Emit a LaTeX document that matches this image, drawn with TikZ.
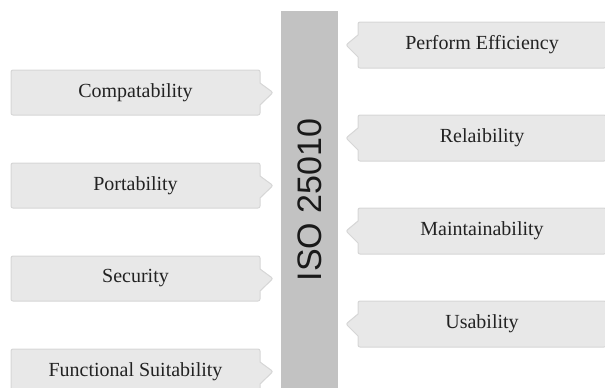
\documentclass[tikz,border=0pt]{standalone}
\usepackage{fontspec}
\setmainfont{Liberation Serif}
\newfontfamily\isofont{Liberation Sans}
\usepackage{xcolor}
\usepackage{tikz}
\usetikzlibrary{shapes.callouts, positioning}
\definecolor{tagfill}{HTML}{E8E8E8}
\definecolor{tagline}{HTML}{D6D6D6}
\definecolor{barfill}{HTML}{C2C2C2}
\definecolor{tagtext}{HTML}{222222}
\tikzset{
  tagbox/.style={rectangle callout, draw=tagline, fill=tagfill, line width=0.75pt, rounded corners=1.5pt, inner sep=0pt, align=center, text=tagtext, font=\fontsize{15}{18}\selectfont, callout pointer width=16.5pt},
  leftbox/.style={tagbox, minimum width=186.75pt, minimum height=33.75pt, callout relative pointer={(9.75pt,0pt)}},
  rightbox/.style={tagbox, minimum width=186pt, minimum height=34.5pt, callout relative pointer={(-9pt,0pt)}},
  isobar/.style={rectangle, fill=barfill, rotate=90, minimum width=283pt, minimum height=42.75pt, inner sep=0pt, text=black!90, font=\isofont\fontsize{25.5}{28}\selectfont},
}
\begin{document}
\begin{tikzpicture}[x=0.75pt, y=-0.75pt]
  \useasboundingbox (0,0) rectangle (605,387);

  % Central bar
  \node[isobar] (iso) at (309.5,200) {ISO 25010};

  % Left side
  \node[leftbox] (compat) at (135.5,92.5) {Compatability};
  \node[leftbox, below=35.25pt of compat] (port) {Portability};
  \node[leftbox, below=35.25pt of port] (secur) {Security};
  \node[leftbox, below=35.25pt of secur] (funct) {Functional Suitability};

  % Right side
  \node[rightbox] (perf) at (482,45) {Perform Efficiency};
  \node[rightbox, below=34.5pt of perf] (relai) {Relaibility};
  \node[rightbox, below=34.5pt of relai] (maint) {Maintainability};
  \node[rightbox, below=34.5pt of maint] (usab) {Usability};
\end{tikzpicture}
\end{document}
